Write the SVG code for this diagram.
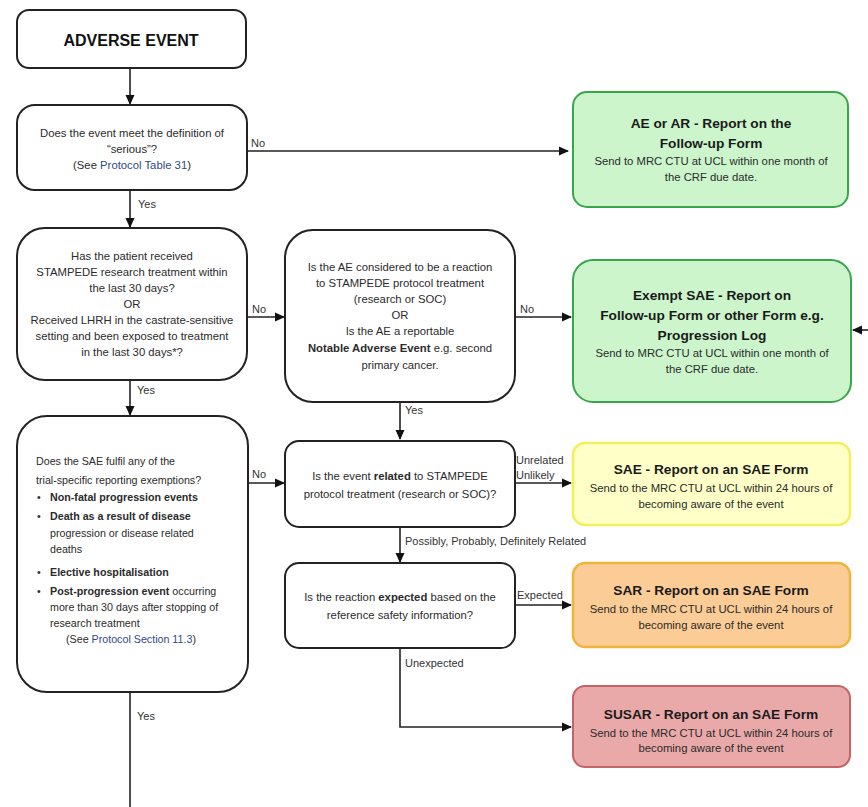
<svg xmlns="http://www.w3.org/2000/svg" width="868" height="807" viewBox="0 0 868 807">
<style>
text{font-family:"Liberation Sans",Arial,sans-serif;fill:#2b2b2b;font-size:11.3px}
.c{text-anchor:middle}
.b{font-weight:bold}
.h{font-weight:bold;font-size:13.7px;fill:#1a1a1a}
.lnk{fill:#2f4a86}
.s{font-size:10.7px}
.q{fill:#fff;stroke:#222;stroke-width:2}
.edge{stroke:#222;stroke-width:1.6;fill:none}
.lbl{font-size:11px;fill:#333}
</style>
<defs>
<marker id="ah" markerWidth="10" markerHeight="10" refX="9" refY="5" orient="auto" markerUnits="userSpaceOnUse">
<path d="M0,0.5 L10,5 L0,9.5 z" fill="#111"/>
</marker>
</defs>

<g id="connectors">
<path class="edge" d="M130,68 V104" marker-end="url(#ah)"/>
<path class="edge" d="M247,151 H568" marker-end="url(#ah)"/>
<path class="edge" d="M130,190 V227" marker-end="url(#ah)"/>
<path class="edge" d="M247,317 H284" marker-end="url(#ah)"/>
<path class="edge" d="M130,380 V415" marker-end="url(#ah)"/>
<path class="edge" d="M515,317 H571" marker-end="url(#ah)"/>
<path class="edge" d="M868,330 H853" marker-end="url(#ah)"/>
<path class="edge" d="M400,402 V439" marker-end="url(#ah)"/>
<path class="edge" d="M248,483 H284" marker-end="url(#ah)"/>
<path class="edge" d="M515,483 H571" marker-end="url(#ah)"/>
<path class="edge" d="M400,527 V562" marker-end="url(#ah)"/>
<path class="edge" d="M515,605 H571" marker-end="url(#ah)"/>
<path class="edge" d="M400,648 V727 H571" marker-end="url(#ah)"/>
<path class="edge" d="M130,692 V807"/>
<text class="lbl" x="251" y="147">No</text>
<text class="lbl" x="138" y="208">Yes</text>
<text class="lbl" x="252" y="313">No</text>
<text class="lbl" x="137" y="394">Yes</text>
<text class="lbl" x="520" y="313">No</text>
<text class="lbl" x="405" y="414">Yes</text>
<text class="lbl" x="252" y="478">No</text>
<text class="lbl" x="516" y="464">Unrelated</text>
<text class="lbl" x="516" y="479">Unlikely</text>
<text class="lbl" x="405" y="545">Possibly, Probably, Definitely Related</text>
<text class="lbl" x="517" y="599">Expected</text>
<text class="lbl" x="405" y="667">Unexpected</text>
<text class="lbl" x="137" y="720">Yes</text>
</g>

<g id="adverse-event">
<rect class="q" x="17" y="10" width="229" height="58" rx="12"/>
<text class="c b" x="131" y="46" style="font-size:16px;fill:#111">ADVERSE EVENT</text>
</g>

<g id="q-serious">
<rect class="q" x="17" y="105" width="230" height="85" rx="18"/>
<text class="c" x="132" y="137">Does the event meet the definition of</text>
<text class="c" x="132" y="153">“serious”?</text>
<text class="c" x="132" y="169">(See <tspan class="lnk">Protocol Table 31</tspan>)</text>
</g>

<g id="q-received">
<rect class="q" x="17" y="228" width="230" height="152" rx="28"/>
<text class="c" x="132" y="260">Has the patient received</text>
<text class="c" x="132" y="276">STAMPEDE research treatment within</text>
<text class="c" x="132" y="292">the last 30 days?</text>
<text class="c" x="132" y="308">OR</text>
<text class="c" x="132" y="324">Received LHRH in the castrate-sensitive</text>
<text class="c" x="132" y="340">setting and been exposed to treatment</text>
<text class="c" x="132" y="356">in the last 30 days*?</text>
</g>

<g id="q-reaction">
<rect class="q" x="285" y="230" width="230" height="172" rx="28"/>
<text class="c" x="400" y="271">Is the AE considered to be a  reaction</text>
<text class="c" x="400" y="287">to STAMPEDE protocol treatment</text>
<text class="c" x="400" y="303">(research or SOC)</text>
<text class="c" x="400" y="319">OR</text>
<text class="c" x="400" y="335">Is the AE a reportable</text>
<text class="c" x="400" y="352"><tspan class="b">Notable Adverse Event</tspan> e.g. second</text>
<text class="c" x="400" y="369">primary cancer.</text>
</g>

<g id="q-exemptions">
<rect class="q" x="17" y="416" width="231" height="276" rx="30"/>
<text class="s" x="36" y="465">Does the SAE fulfil any of the</text>
<text class="s" x="36" y="484">trial-specific reporting exemptions?</text>
<text class="s" x="37" y="501">•</text><text x="50" y="501" class="s b">Non-fatal progression events</text>
<text class="s" x="37" y="520">•</text><text class="s" x="50" y="520"><tspan class="b">Death as a result of disease</tspan></text>
<text class="s" x="50" y="537">progression or disease related</text>
<text class="s" x="50" y="553">deaths</text>
<text class="s" x="37" y="576">•</text><text x="50" y="576" class="s b">Elective hospitalisation</text>
<text class="s" x="37" y="595">•</text><text class="s" x="50" y="595"><tspan class="b">Post-progression event</tspan> occurring</text>
<text class="s" x="50" y="611">more than 30 days after stopping of</text>
<text class="s" x="50" y="627">research treatment</text>
<text class="c s" x="131" y="643">(See <tspan class="lnk">Protocol Section 11.3</tspan>)</text>
</g>

<g id="q-related">
<rect class="q" x="285" y="441" width="230" height="86" rx="14"/>
<text class="c" x="400" y="480">Is the event <tspan class="b">related</tspan> to STAMPEDE</text>
<text class="c" x="400" y="498">protocol treatment (research  or SOC)?</text>
</g>

<g id="q-expected">
<rect class="q" x="285" y="563" width="230" height="85" rx="14"/>
<text class="c" x="400" y="601">Is the reaction <tspan class="b">expected</tspan> based on the</text>
<text class="c" x="400" y="619">reference safety information?</text>
</g>

<g id="ae-ar">
<rect x="573" y="92" width="275" height="115" rx="14" fill="#ccf5cc" stroke="#3aa64c" stroke-width="2"/>
<text class="c h" x="711" y="128">AE or AR - Report on the</text>
<text class="c h" x="711" y="148">Follow-up Form</text>
<text class="c" x="711" y="165">Send to MRC CTU at UCL within one month of</text>
<text class="c" x="711" y="181">the CRF due date.</text>
</g>

<g id="exempt-sae">
<rect x="573" y="260" width="278" height="142" rx="20" fill="#ccf5cc" stroke="#3aa64c" stroke-width="2"/>
<text class="c h" x="712" y="300">Exempt SAE - Report on</text>
<text class="c h" x="712" y="320">Follow-up Form or other Form e.g.</text>
<text class="c h" x="712" y="340">Progression Log</text>
<text class="c" x="712" y="357">Send to MRC CTU at UCL within one month of</text>
<text class="c" x="712" y="373">the CRF due date.</text>
</g>

<g id="sae">
<rect x="573" y="443" width="277" height="82" rx="12" fill="#ffffc8" stroke="#f2ef5a" stroke-width="2.5"/>
<text class="c h" x="711" y="474">SAE - Report on an SAE Form</text>
<text class="c" x="711" y="492">Send to the MRC CTU at UCL within 24 hours of</text>
<text class="c" x="711" y="508">becoming aware of the event</text>
</g>

<g id="sar">
<rect x="573" y="563" width="277" height="84" rx="12" fill="#fbcc96" stroke="#efb43a" stroke-width="2.5"/>
<text class="c h" x="711" y="595">SAR - Report on an SAE Form</text>
<text class="c" x="711" y="613">Send to the MRC CTU at UCL within 24 hours of</text>
<text class="c" x="711" y="629">becoming aware of the event</text>
</g>

<g id="susar">
<rect x="573" y="686" width="277" height="81" rx="12" fill="#eaa9a9" stroke="#c46565" stroke-width="2"/>
<text class="c h" x="711" y="719">SUSAR - Report on an SAE Form</text>
<text class="c" x="711" y="737">Send to the MRC CTU at UCL within 24 hours of</text>
<text class="c" x="711" y="752">becoming aware of the event</text>
</g>
</svg>
